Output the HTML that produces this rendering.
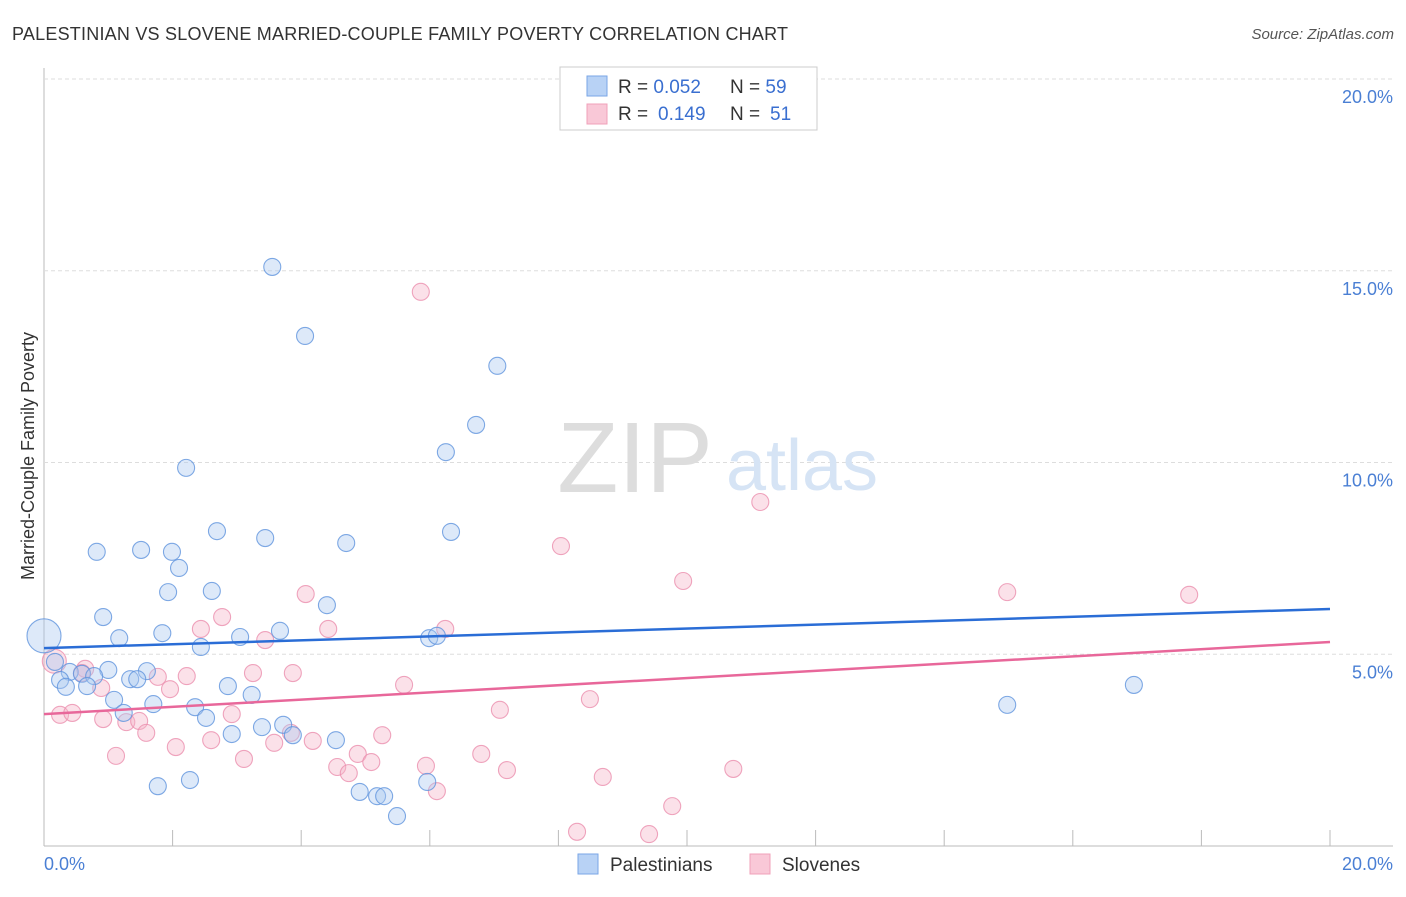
<!DOCTYPE html>
<html><head><meta charset="utf-8"><style>
body{margin:0;background:#fff;font-family:"Liberation Sans",sans-serif;}
svg text{font-family:"Liberation Sans",sans-serif;}
</style></head><body>
<svg id="chart" width="1406" height="892">
<text x="12" y="40" font-size="18" fill="#333" textLength="776">PALESTINIAN VS SLOVENE MARRIED-COUPLE FAMILY POVERTY CORRELATION CHART</text>
<text x="1394" y="39" font-size="15" fill="#555" font-style="italic" text-anchor="end">Source: ZipAtlas.com</text>
<g id="grid"></g>
<g><text x="635" y="492" font-size="100" fill="#ddd" font-family="Liberation Serif" text-anchor="middle">ZIP</text><text x="802" y="490" font-size="72" fill="#d6e4f5" text-anchor="middle">atlas</text></g>
<g id="marks"></g>
<text transform="translate(34,456) rotate(-90)" font-size="18" fill="#333" text-anchor="middle">Married-Couple Family Poverty</text>
<text x="44" y="870" font-size="18" fill="#4a7fd4">0.0%</text>
<text x="1393" y="870" font-size="18" fill="#4a7fd4" text-anchor="end">20.0%</text>
<g>
<rect x="560" y="67" width="257" height="63" fill="#fff" stroke="#ccc"/>
<rect x="587" y="76" width="20" height="20" fill="#b8d2f5" stroke="#7aa6e6"/>
<rect x="587" y="104" width="20" height="20" fill="#f9c8d7" stroke="#f0a0ba"/>
<text x="618" y="93" font-size="19" fill="#333">R = <tspan fill="#3a6fd0">0.052</tspan><tspan x="730">N = </tspan><tspan fill="#3a6fd0">59</tspan></text>
<text x="618" y="120" font-size="19" fill="#333">R = <tspan x="658" fill="#3a6fd0">0.149</tspan><tspan x="730">N = </tspan><tspan x="770" fill="#3a6fd0">51</tspan></text>
</g>
<g>
<rect x="578" y="854" width="20" height="20" fill="#b8d2f5" stroke="#7aa6e6"/>
<text x="610" y="871" font-size="19" fill="#333">Palestinians</text>
<rect x="750" y="854" width="20" height="20" fill="#f9c8d7" stroke="#f0a0ba"/>
<text x="782" y="871" font-size="19" fill="#333">Slovenes</text>
</g>
</svg>
<script>
const yTicks=[5,10,15,20];
const yTickLabels=["5.0%","10.0%","15.0%","20.0%"];
const blueX=[3.55,4.06,7.05,6.72,6.25,2.21,2.69,3.44,4.70,6.33,0.82,1.51,1.99,2.10,1.93,2.61,0.92,4.40,1.17,1.84,3.05,3.67,2.44,5.99,6.11,0,0.17,1.00,1.60,0.40,0.59,0.78,1.34,1.45,0.25,0.34,0.67,2.86,3.23,1.09,1.70,2.35,1.24,2.52,3.39,3.72,3.87,2.92,4.54,4.91,5.18,5.29,5.49,1.77,2.27,5.96,14.98,16.95];
const blueY=[15.10,13.30,12.52,10.98,10.27,9.86,8.21,8.03,7.90,8.19,7.67,7.72,7.67,7.25,6.62,6.65,5.97,6.28,5.42,5.55,5.45,5.61,5.19,5.42,5.48,5.48,4.80,4.59,4.56,4.54,4.49,4.43,4.35,4.35,4.33,4.15,4.17,4.17,3.94,3.81,3.70,3.62,3.47,3.34,3.10,3.16,2.89,2.92,2.76,1.41,1.30,1.30,0.78,1.56,1.72,1.67,3.68,4.20];
const pinkX=[5.86,11.14,8.04,9.94,14.98,17.81,4.07,2.77,2.44,3.44,4.42,6.24,0.16,0.64,0.59,1.77,2.22,0.89,1.96,3.25,3.87,5.60,8.49,7.09,0.25,0.44,0.92,1.28,1.48,1.59,2.92,2.60,3.58,3.84,4.18,5.26,4.88,5.09,4.56,4.74,2.05,1.12,3.11,5.94,6.80,7.20,8.69,10.72,6.11,9.77,8.29,9.41];
const pinkY=[14.45,8.97,7.82,6.91,6.62,6.55,6.57,5.97,5.66,5.37,5.66,5.66,4.82,4.62,4.51,4.41,4.43,4.12,4.09,4.51,4.51,4.20,3.83,3.55,3.42,3.47,3.31,3.23,3.26,2.95,3.44,2.76,2.69,2.95,2.74,2.89,2.40,2.19,2.06,1.90,2.58,2.35,2.27,2.09,2.40,1.98,1.80,2.01,1.43,1.04,0.37,0.31];
const blueTrend=[5.16,6.18];
const pinkTrend=[3.44,5.32];
const NS="http://www.w3.org/2000/svg";
const sx=v=>44+v*64.3, sy=v=>846-v*38.35;
const grid=document.getElementById('grid'), marks=document.getElementById('marks');
function mk(tag,attrs,parent){const e=document.createElementNS(NS,tag);for(const k in attrs)e.setAttribute(k,attrs[k]);parent.appendChild(e);return e;}
let ax=mk('line',{x1:44,y1:68,x2:44,y2:846,stroke:'#bbb'},grid);


let bx=mk('line',{x1:44,y1:846,x2:1393,y2:846,stroke:'#bbb'},grid);


for(let i=1;i<=10;i++){const t=mk('line',{x1:sx(i*2),y1:830,x2:sx(i*2),y2:846,stroke:'#bbb'},grid);

}
yTicks.forEach((v,i)=>{const g=mk('line',{x1:44,y1:sy(v),x2:1393,y2:sy(v),stroke:'#ddd','stroke-dasharray':'4,3'},grid);


const t=mk('text',{x:1393,y:sy(v)+24,'font-size':18,fill:'#4a7fd4','text-anchor':'end'},grid);t.textContent=yTickLabels[i];

});
function pts(X,Y,fill,stroke,name,bigIdx,bigR){X.forEach((x,i)=>{const c=mk('circle',{cx:sx(x),cy:sy(Y[i]),r:i===bigIdx?bigR:8.5,fill:fill,'fill-opacity':0.4,stroke:stroke,'stroke-opacity':0.8,'stroke-width':1.1},marks);

});}
pts(pinkX,pinkY,'#f5b3c8','#eb8fae','slovene-point',12,12);
pts(blueX,blueY,'#a9c7f0','#5f93dd','palestinian-point',25,17);
const bl=mk('line',{x1:sx(0),y1:sy(blueTrend[0]),x2:sx(20),y2:sy(blueTrend[1]),stroke:'#2a6dd6','stroke-width':2.5},marks);


const pl=mk('line',{x1:sx(0),y1:sy(pinkTrend[0]),x2:sx(20),y2:sy(pinkTrend[1]),stroke:'#e8679a','stroke-width':2.5},marks);


</script>
</body></html>
